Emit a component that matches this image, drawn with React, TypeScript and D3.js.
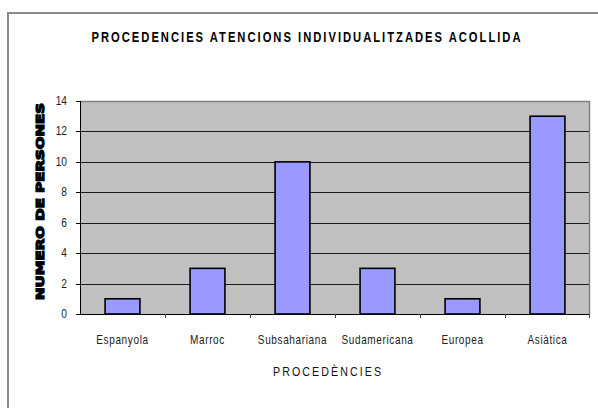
import React from "react";
import * as d3 from "d3";

const categories = ["Espanyola", "Marroc", "Subsahariana", "Sudamericana", "Europea", "Asiàtica"];
const values = [1, 3, 10, 3, 1, 13];
const yTicks = [0, 2, 4, 6, 8, 10, 12, 14];
const title = "PROCEDENCIES ATENCIONS INDIVIDUALITZADES ACOLLIDA";
const xTitle = "PROCEDÈNCIES";
const yTitle = "NUMERO DE PERSONES";

export default function App() {
  const W = 598, H = 408;
  const left = 80, right = 590, top = 101, bottom = 314;
  const x = d3.scaleBand<string>().domain(categories).range([left, right]).paddingInner(0).paddingOuter(0);
  const y = d3.scaleLinear().domain([0, 14]).range([bottom, top]);
  const bw = x.bandwidth();
  const barW = bw * 0.41;
  const font = "'Liberation Sans', Arial, sans-serif";
  const sx = 0.8;
  return (
    <svg width={W} height={H} style={{ position: "absolute", left: 0, top: 0, background: "#fff" }}>
      <rect x={8} y={13} width={W} height={H} fill="#fff" stroke="#8a8a8a" strokeWidth={2} />
      <text transform={`translate(306, 42) scale(0.8, 1)`} textAnchor="middle" fontFamily={font} fontWeight="bold" fontSize={14} textLength={429 / 0.8} lengthAdjust="spacing" fill="#000">{title}</text>
      <rect x={left} y={top} width={right - left} height={bottom - top} fill="#c0c0c0" />
      {yTicks.filter(t => t > 0 && t < 14).map(t => (
        <line key={t} x1={left} x2={right} y1={Math.round(y(t)) + 0.5} y2={Math.round(y(t)) + 0.5} stroke="#1a1a1a" strokeWidth={1} />
      ))}
      <line x1={left} x2={right} y1={top + 0.5} y2={top + 0.5} stroke="#808080" strokeWidth={1.5} />
      <line x1={right - 0.5} x2={right - 0.5} y1={top} y2={bottom} stroke="#808080" strokeWidth={1.5} />
      {categories.map((c, i) => {
        const cx = (x(c) as number) + bw / 2;
        return (
          <rect key={c} x={cx - barW / 2} y={y(values[i])} width={barW} height={bottom - y(values[i])} fill="#9999ff" stroke="#000" strokeWidth={1.6} />
        );
      })}
      <line x1={left + 0.5} x2={left + 0.5} y1={top} y2={bottom} stroke="#000" strokeWidth={1} />
      <line x1={left} x2={right} y1={bottom + 0.5} y2={bottom + 0.5} stroke="#000" strokeWidth={1} />
      {yTicks.map(t => (
        <g key={t}>
          <line x1={76} x2={left} y1={Math.round(y(t)) + 0.5} y2={Math.round(y(t)) + 0.5} stroke="#000" strokeWidth={1} />
          <text transform={`translate(67, ${y(t) + 4}) scale(0.85, 1)`} textAnchor="end" fontFamily={font} fontSize={12} fill="#222">{t}</text>
        </g>
      ))}
      {categories.map((c, i) => (
        <line key={"t" + c} x1={(x(c) as number) + bw + 0.5 - (i === categories.length - 1 ? 1 : 0)} x2={(x(c) as number) + bw + 0.5 - (i === categories.length - 1 ? 1 : 0)} y1={bottom} y2={bottom + 4} stroke="#444" strokeWidth={1} />
      ))}
      {categories.map(c => (
        <text key={"l" + c} transform={`translate(${(x(c) as number) + bw / 2}, 344) scale(${sx}, 1)`} textAnchor="middle" fontFamily={font} fontSize={12.5} letterSpacing={0.8} fill="#222">{c}</text>
      ))}
      <text transform={`translate(327, 376) scale(0.85, 1)`} textAnchor="middle" fontFamily={font} fontSize={12.5} textLength={108 / 0.85} lengthAdjust="spacing" fill="#111">{xTitle}</text>
      <text transform={`translate(44, ${201.5}) rotate(-90)`} textAnchor="middle" fontFamily="'DejaVu Sans', sans-serif" fontWeight="bold" fontSize={11} textLength={197} lengthAdjust="spacingAndGlyphs" fill="#000" stroke="#000" strokeWidth={1.2}>{yTitle}</text>
    </svg>
  );
}
